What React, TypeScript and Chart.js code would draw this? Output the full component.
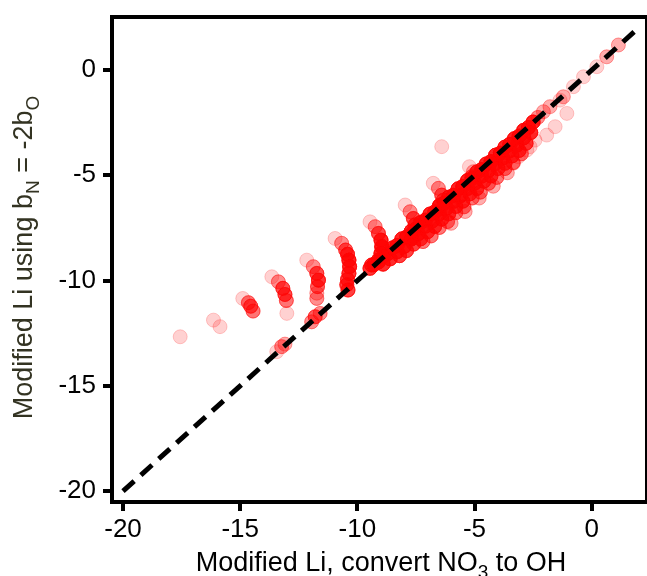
import React, { useEffect, useRef } from 'react';
import { Chart, registerables } from 'chart.js';

Chart.register(...registerables);

const FONT = '"Liberation Sans", Arial, Helvetica, sans-serif';

// axis ranges and ticks
const xRange = [-20.47, 2.36];
const yRange = [-20.52, 2.52];
const xTickValues = [-20, -15, -10, -5, 0];
const yTickValues = [-20, -15, -10, -5, 0];

// axis titles (with subscripts)
const xTitleParts = [
  { t: 'Modified Li, convert NO' },
  { t: '3', sub: true },
  { t: ' to OH' },
];
const yTitleParts = [
  { t: 'Modified Li using b' },
  { t: 'N', sub: true },
  { t: ' = -2b' },
  { t: 'O', sub: true },
];

// 1:1 reference line end points
const identityLine = [-20, 2];

// isolated points and arcs: [x, y, repeats]
const arcPoints: number[][] = [
  [-17.56, -12.67, 1],
  [-16.14, -11.88, 1], [-15.86, -12.19, 1],
  [-14.89, -10.85, 1], [-14.65, -11.05, 4], [-14.55, -11.22, 5], [-14.45, -11.45, 4],
  [-13.65, -9.82, 1], [-13.37, -10.06, 3], [-13.18, -10.37, 6], [-13.09, -10.66, 6], [-13.03, -10.95, 4], [-13.01, -11.56, 1],
  [-13.44, -13.38, 1], [-13.23, -13.14, 3], [-13.09, -13.02, 2],
  [-12.16, -9.03, 1], [-11.88, -9.34, 3], [-11.73, -9.66, 6], [-11.66, -9.98, 8], [-11.7, -10.29, 5], [-11.73, -10.6, 2], [-11.73, -10.85, 3],
  [-11.95, -11.96, 3], [-11.8, -11.72, 5], [-11.59, -11.56, 3],
  [-10.95, -8.0, 1], [-10.67, -8.23, 3], [-10.5, -8.55, 5], [-10.42, -8.75, 8], [-10.36, -9.03, 10], [-10.33, -9.34, 10], [-10.36, -9.66, 8], [-10.42, -9.95, 7], [-10.45, -10.2, 7], [-10.4, -10.45, 7],
  [-9.46, -7.21, 1], [-9.24, -7.44, 3], [-9.1, -7.76, 6], [-8.99, -8.08, 10], [-8.96, -8.39, 12], [-8.99, -8.71, 12], [-9.1, -9.03, 10], [-9.39, -9.26, 8], [-9.46, -9.42, 8],
  [-7.96, -6.41, 1], [-7.75, -6.73, 3], [-7.61, -7.05, 6], [-7.54, -7.36, 8], [-7.61, -7.68, 8], [-7.68, -8.0, 8],
  [-6.76, -5.38, 1], [-6.54, -5.62, 3], [-6.4, -5.94, 5], [-6.33, -6.18, 5], [-6.47, -6.41, 5],
  [-5.22, -4.59, 1], [-5.05, -4.83, 2], [-5.12, -5.07, 4],
  [-6.4, -3.64, 1],
  [-2.3, -2.25, 3], [-2.06, -1.98, 2], [-1.78, -1.74, 2], [-1.35, -1.43, 1], [-1.21, -1.27, 2], [-0.78, -0.79, 1], [-0.35, -0.32, 1], [0.22, 0.16, 1], [0.64, 0.63, 2], [1.14, 1.19, 2],
  [-1.06, -2.06, 1], [-1.56, -2.69, 1], [-1.92, -3.09, 1], [-2.42, -3.33, 1], [-2.63, -3.64, 1], [-2.77, -3.8, 1], [-3.13, -4.12, 1], [-3.34, -4.43, 1],
];

// dense band along / below the 1:1 line: [x, y]
const bandRow0: number[][] = [
  [-9.3, -9.25], [-9.1, -9.12], [-8.9, -8.85], [-8.7, -8.72], [-8.5, -8.45], [-8.3, -8.33], [-8.1, -8.02], [-7.9, -7.93],
  [-7.7, -7.66], [-7.5, -7.55], [-7.3, -7.24], [-7.1, -7.13], [-6.9, -6.84], [-6.7, -6.74], [-6.5, -6.45], [-6.3, -6.33],
  [-6.1, -6.04], [-5.9, -5.95], [-5.7, -5.64], [-5.5, -5.53], [-5.3, -5.25], [-5.1, -5.14], [-4.9, -4.84], [-4.7, -4.73],
  [-4.5, -4.46], [-4.3, -4.35], [-4.1, -4.04], [-3.9, -3.95], [-3.7, -3.66], [-3.5, -3.53], [-3.3, -3.26], [-3.1, -3.14],
  [-2.9, -2.86], [-2.7, -2.73], [-2.5, -2.47],
];
const bandRow1: number[][] = [
  [-8.9, -9.22], [-8.6, -8.97], [-8.3, -8.63], [-8.0, -8.38], [-7.7, -8.03], [-7.4, -7.78], [-7.1, -7.42], [-6.8, -7.17],
  [-6.5, -6.84], [-6.2, -6.57], [-5.9, -6.24], [-5.6, -5.97], [-5.3, -5.63], [-5.0, -5.38], [-4.7, -5.04], [-4.4, -4.77],
  [-4.1, -4.43], [-3.8, -4.18], [-3.5, -3.84], [-3.2, -3.57], [-2.9, -3.22], [-2.6, -2.97],
];
const bandRow2: number[][] = [
  [-8.2, -8.82], [-7.9, -8.58], [-7.6, -8.27], [-7.3, -8.02], [-7.0, -7.68], [-6.7, -7.43], [-6.4, -7.08], [-6.1, -6.83],
  [-5.8, -6.48], [-5.5, -6.23], [-5.2, -5.88], [-4.9, -5.63], [-4.6, -5.28], [-4.3, -5.03], [-4.0, -4.68], [-3.7, -4.43],
  [-3.4, -4.08], [-3.1, -3.82], [-2.8, -3.48],
];
const bandRow3: number[][] = [
  [-7.2, -8.15], [-6.85, -7.88], [-6.5, -7.48], [-6.15, -7.2], [-5.8, -6.78], [-5.45, -6.5], [-5.1, -6.08], [-4.75, -5.8],
  [-4.4, -5.38], [-4.05, -5.1], [-3.7, -4.68], [-3.35, -4.4], [-3.0, -3.98],
];
const bandRow4: number[][] = [
  [-6.0, -7.28], [-5.4, -6.72], [-4.8, -6.08], [-4.2, -5.52], [-3.6, -4.88],
];
const bandRows = [bandRow0, bandRow1, bandRow2, bandRow3, bandRow4];
const bandRepeats = [10, 9, 7, 4, 2];

function buildPoints() {
  const pts: { x: number; y: number }[] = [];
  for (const [x, y, n] of arcPoints) for (let i = 0; i < n; i++) pts.push({ x, y });
  bandRows.forEach((row, r) => {
    for (const [x, y] of row) for (let i = 0; i < bandRepeats[r]; i++) pts.push({ x, y });
  });
  return pts;
}

function drawRich(ctx: CanvasRenderingContext2D, parts: any[], cx: number, baseline: number, size: number, subSize: number, subDrop: number, color: string) {
  const widths = parts.map((p) => {
    ctx.font = `${p.sub ? subSize : size}px ${FONT}`;
    return ctx.measureText(p.t).width;
  });
  const total = widths.reduce((a, b) => a + b, 0);
  let x = cx - total / 2;
  ctx.fillStyle = color;
  ctx.textAlign = 'left';
  ctx.textBaseline = 'alphabetic';
  parts.forEach((p, i) => {
    ctx.font = `${p.sub ? subSize : size}px ${FONT}`;
    ctx.fillText(p.t, x, baseline + (p.sub ? subDrop : 0));
    x += widths[i];
  });
}

const framePlugin = {
  id: 'frame',
  afterDatasetsDraw(chart: any) {
    const { ctx, chartArea: a } = chart;
    ctx.save();
    ctx.strokeStyle = '#000';
    ctx.lineWidth = 4;
    ctx.strokeRect(a.left, a.top, a.right - a.left, a.bottom - a.top);
    ctx.restore();
  },
  afterDraw(chart: any) {
    const { ctx, chartArea: a } = chart;
    ctx.save();
    drawRich(ctx, xTitleParts, 381, a.bottom + 69, 27, 19, 7, '#000');
    ctx.restore();
    ctx.save();
    ctx.translate(32, (a.top + a.bottom) / 2 - 2);
    ctx.rotate(-Math.PI / 2);
    drawRich(ctx, yTitleParts, 0, 0, 27, 19, 7, '#333322');
    ctx.restore();
  },
};

export default function App() {
  const ref = useRef<HTMLCanvasElement>(null);
  useEffect(() => {
    document.body.style.margin = '0';
    const tickFont = { family: FONT, size: 26 };
    const grid = { display: true, drawOnChartArea: false, drawTicks: true, tickLength: 9, lineWidth: 4, color: '#000' };
    const chart = new Chart(ref.current!, {
      type: 'scatter',
      data: {
        datasets: [
          {
            data: identityLine.map((v) => ({ x: v, y: v })),
            showLine: true,
            borderColor: '#000',
            borderWidth: 5,
            borderDash: [15, 9],
            pointRadius: 0,
            order: 0,
          } as any,
          {
            data: buildPoints(),
            backgroundColor: 'rgba(255,0,0,0.18)',
            borderColor: 'rgba(255,0,0,0.2)',
            borderWidth: 1,
            pointRadius: 7,
            order: 1,
          },
        ],
      },
      options: {
        responsive: false,
        animation: false,
        devicePixelRatio: 1,
        events: [],
        layout: { autoPadding: false, padding: { top: 17, right: 0, left: 0, bottom: 0 } },
        plugins: { legend: { display: false }, tooltip: { enabled: false } },
        scales: {
          x: {
            type: 'linear',
            min: xRange[0],
            max: xRange[1],
            afterBuildTicks: (s: any) => { s.ticks = xTickValues.map((v) => ({ value: v })); },
            afterFit: (s: any) => { s.height = 74; s.paddingLeft = 0; s.paddingRight = 0; s.paddingTop = 0; s.paddingBottom = 0; },
            grid,
            border: { display: false },
            ticks: { color: '#000', font: tickFont, padding: 3, maxRotation: 0, autoSkip: false, callback: (v: any) => String(v) },
          },
          y: {
            type: 'linear',
            min: yRange[0],
            max: yRange[1],
            afterBuildTicks: (s: any) => { s.ticks = yTickValues.map((v) => ({ value: v })); },
            afterFit: (s: any) => { s.width = 112; s.paddingLeft = 0; s.paddingRight = 0; s.paddingTop = 0; s.paddingBottom = 0; },
            grid,
            border: { display: false },
            ticks: { color: '#000', font: tickFont, padding: 7, autoSkip: false, callback: (v: any) => String(v) },
          },
        },
      },
      plugins: [framePlugin],
    } as any);
    return () => chart.destroy();
  }, []);
  return <canvas ref={ref} width={647} height={576} style={{ display: 'block', width: 647, height: 576 }} />;
}
